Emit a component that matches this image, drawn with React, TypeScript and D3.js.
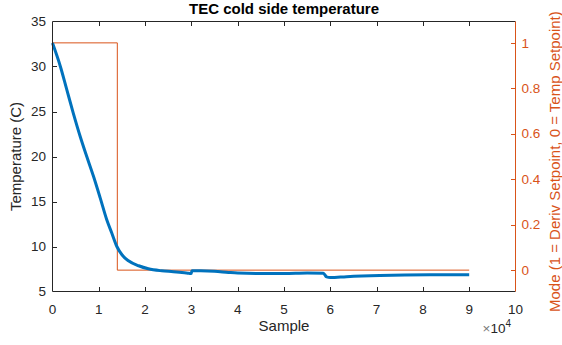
import React from "react";
import * as d3 from "d3";

// Temperature series (sample, °C)
const tempSamples = [0, 1700, 3100, 4500, 6000, 7400, 8850, 10300, 11700, 12800, 13900, 15000, 16400, 18600, 20700, 23600, 26100, 28500, 29500, 29950, 30100, 32000, 35000, 38000, 40000, 45000, 50000, 55000, 58500, 59200, 60000, 63500, 70700, 81500, 90000];
const tempValues = [32.6, 30.0, 27.4, 24.8, 22.2, 20.0, 17.8, 15.4, 13.0, 11.5, 10.0, 9.08, 8.41, 7.86, 7.52, 7.3, 7.2, 7.08, 7.02, 7.0, 7.3, 7.3, 7.25, 7.12, 7.05, 7.0, 7.0, 7.05, 7.02, 6.62, 6.55, 6.65, 6.78, 6.85, 6.85];

// Mode series (sample, mode)
const modeSamples = [0, 14000, 90000];
const modeValues = [1, 0, 0];

const xTicks = [0, 1, 2, 3, 4, 5, 6, 7, 8, 9, 10];
const yLeftTicks = [5, 10, 15, 20, 25, 30, 35];
const yRightTicks = [0, 0.2, 0.4, 0.6, 0.8, 1];

export default function App() {
  const W = 562, H = 345;
  const L = 52.5, R = 515.5, T = 21.5, B = 291.5;
  const x = d3.scaleLinear().domain([0, 100000]).range([L, R]);
  const yL = d3.scaleLinear().domain([5, 35]).range([B, T]);
  const yR = d3.scaleLinear().domain([-0.094, 1.094]).range([B, T]);
  const axisCol = "#262626";
  const orange = "#D95319";
  const blue = "#0072BD";
  const font = "'Liberation Sans', Arial, Helvetica, sans-serif";
  const tick = 4.5;

  const tempLine = d3
    .line<number>()
    .x((_, i) => x(tempSamples[i]))
    .y((d) => yL(d))
    .curve(d3.curveMonotoneX)(tempValues) as string;

  const modeLine = d3
    .line<number>()
    .x((_, i) => x(modeSamples[i]))
    .y((d) => yR(d))
    .curve(d3.curveStepAfter)(modeValues) as string;

  const fmt = (v: number) => (v === 0 ? "0" : String(+v.toFixed(1)));

  return (
    <svg
      width={W}
      height={H}
      style={{ position: "absolute", left: 0, top: 0, background: "#fff" }}
      fontFamily={font}
    >
      <rect x={0} y={0} width={W} height={H} fill="#fff" />
      {/* data */}
      <path d={modeLine} fill="none" stroke={orange} strokeWidth={1} />
      <path d={tempLine} fill="none" stroke={blue} strokeWidth={3} strokeLinejoin="round" />

      {/* axes frame */}
      <line x1={L} x2={R} y1={B} y2={B} stroke={axisCol} strokeWidth={1} />
      <line x1={L} x2={R} y1={T} y2={T} stroke={axisCol} strokeWidth={1} />
      <line x1={L} x2={L} y1={T} y2={B} stroke={axisCol} strokeWidth={1} />
      <line x1={R} x2={R} y1={T} y2={B} stroke={orange} strokeWidth={1} />

      {/* x ticks */}
      {xTicks.map((t) => {
        const px = Math.round(x(t * 10000)) + 0.5;
        return (
          <g key={"x" + t}>
            {t > 0 && t < 10 && (
              <>
                <line x1={px} x2={px} y1={B} y2={B - tick} stroke={axisCol} />
                <line x1={px} x2={px} y1={T} y2={T + tick} stroke={axisCol} />
              </>
            )}
            <text x={x(t * 10000)} y={314} fontSize={13.5} fill={axisCol} textAnchor="middle">
              {t}
            </text>
          </g>
        );
      })}

      {/* left y ticks */}
      {yLeftTicks.map((t) => {
        const py = Math.round(yL(t)) + 0.5;
        return (
          <g key={"yl" + t}>
            {t > 5 && t < 35 && <line x1={L} x2={L + tick} y1={py} y2={py} stroke={axisCol} />}
            <text x={46} y={yL(t)} dy="0.35em" fontSize={13.5} fill={axisCol} textAnchor="end">
              {t}
            </text>
          </g>
        );
      })}

      {/* right y ticks */}
      {yRightTicks.map((t) => {
        const py = Math.round(yR(t)) + 0.5;
        return (
          <g key={"yr" + t}>
            <line x1={R} x2={R - tick} y1={py} y2={py} stroke={orange} />
            <text x={521.5} y={yR(t)} dy="0.35em" fontSize={13.5} fill={orange} textAnchor="start">
              {fmt(t)}
            </text>
          </g>
        );
      })}

      {/* exponent */}
      <text x={511} y={333} fontSize={13.5} fill={axisCol} textAnchor="end">
        <tspan fill="#777">×</tspan>10
        <tspan dy={-6} fontSize={10}>4</tspan>
      </text>

      {/* labels */}
      <text x={(L + R) / 2} y={13.5} fontSize={15} fontWeight="bold" fill="#000" textAnchor="middle">
        TEC cold side temperature
      </text>
      <text x={(L + R) / 2} y={331} fontSize={15} fill={axisCol} textAnchor="middle">
        Sample
      </text>
      <text
        transform={`translate(21,${(T + B) / 2}) rotate(-90)`}
        fontSize={15}
        fill={axisCol}
        textAnchor="middle"
      >
        Temperature (C)
      </text>
      <text
        transform={`translate(559.5,312) rotate(-90)`}
        fontSize={15}
        fill={orange}
        textAnchor="start"
      >
        Mode (1 = Deriv Setpoint, 0 = Temp Setpoint)
      </text>
    </svg>
  );
}
